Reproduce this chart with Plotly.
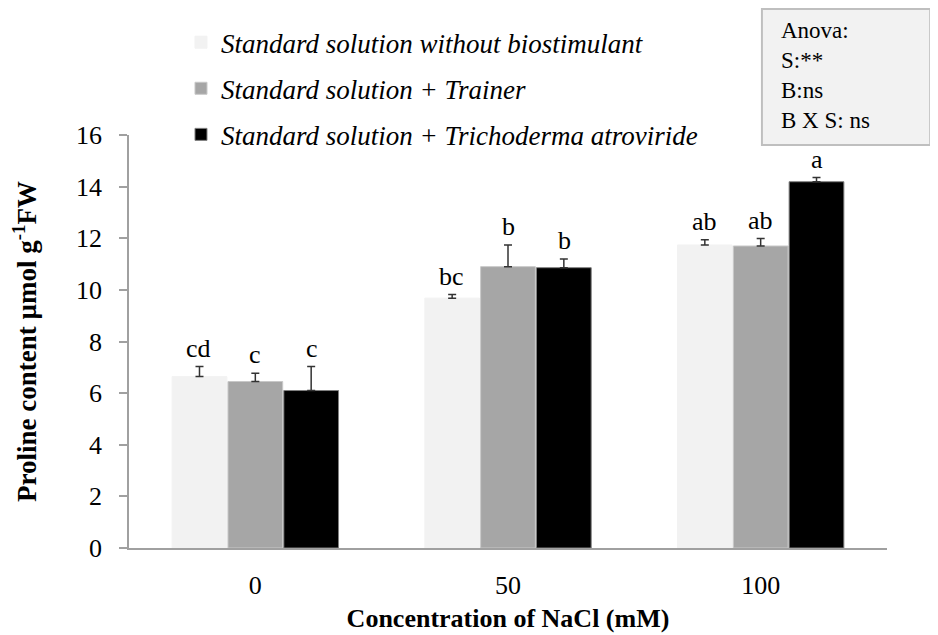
import plotly.graph_objects as go

categories = ["0", "50", "100"]
series_names = [
    "Standard solution without biostimulant",
    "Standard solution + Trainer",
    "Standard solution + Trichoderma atroviride",
]
values_control = [6.64, 9.68, 11.74]
values_trainer = [6.45, 10.90, 11.70]
values_tricho = [6.10, 10.86, 14.19]
err_control = [0.39, 0.14, 0.20]
err_trainer = [0.32, 0.84, 0.29]
err_tricho = [0.93, 0.34, 0.16]
letters_control = ["cd", "bc", "ab"]
letters_trainer = ["c", "b", "ab"]
letters_tricho = ["c", "b", "a"]
anova_lines = ["Anova:", "S:**", "B:ns", "B X S: ns"]

FONT = "Liberation Serif"
colors = ["#f2f2f2", "#a6a6a6", "#000000"]
line_colors = ["#f2f2f2", "#c8c8c8", "#7f7f7f"]

series = [
    (values_control, err_control, letters_control),
    (values_trainer, err_trainer, letters_trainer),
    (values_tricho, err_tricho, letters_tricho),
]

fig = go.Figure()
for i, (vals, errs, lets) in enumerate(series):
    fig.add_trace(go.Bar(
        x=categories, y=vals, name=series_names[i],
        legendgroup=f"g{i}",
        marker=dict(color=colors[i], line=dict(color=line_colors[i], width=1)),
        error_y=dict(type="data", array=errs, arrayminus=[0]*len(errs),
                     symmetric=False, color="#333333", thickness=1.5, width=4),
    ))

# significance letters
offsets = [-1, 0, 1]
for i, (vals, errs, lets) in enumerate(series):
    for j, c in enumerate(categories):
        fig.add_annotation(
            x=j + offsets[i] * 0.223, y=vals[j] + errs[j], xref="x", yref="y",
            text=lets[j], showarrow=False, yanchor="bottom", yshift=2,
            font=dict(family=FONT, size=26, color="#000"),
        )

# ANOVA box
fig.add_shape(type="rect", xref="paper", yref="paper",
              x0=0.835, x1=1.057, y0=0.976, y1=1.305,
              fillcolor="#f2f2f2", line=dict(color="#bfbfbf", width=2))
fig.add_annotation(xref="paper", yref="paper", x=0.8575, y=1.287,
                   xanchor="left", yanchor="top", align="left", showarrow=False,
                   text="<br>".join(anova_lines),
                   font=dict(family=FONT, size=23, color="#000"))

fig.update_layout(
    template="none",
    width=930, height=627,
    margin=dict(l=121, r=51, t=127, b=87, autoexpand=False),
    paper_bgcolor="white", plot_bgcolor="white",
    barmode="group", bargap=0.337, bargroupgap=0.02,
    font=dict(family=FONT, color="#000"),
    legend=dict(x=0.0686, y=1.283, xanchor="left", yanchor="top",
                font=dict(family=FONT, size=27, style="italic"),
                tracegroupgap=8, itemwidth=30, bgcolor="rgba(0,0,0,0)"),
    xaxis=dict(type="category", automargin=False, showline=True,
               linecolor="#a0a0a0", linewidth=1.5,
               showgrid=False, ticks="", ticklabelstandoff=13,
               tickfont=dict(family=FONT, size=26),
               title=dict(text="<b>Concentration of NaCl (mM)</b>",
                          font=dict(family=FONT, size=26), standoff=10)),
    yaxis=dict(automargin=False, range=[0, 16], dtick=2, showgrid=False, zeroline=False,
               showline=True, linecolor="#a0a0a0", linewidth=1.5,
               ticks="outside", ticklen=8, tickcolor="#a0a0a0", tickwidth=1.5,
               ticklabelstandoff=12,
               tickfont=dict(family=FONT, size=26),
               title=dict(text="<b>Proline content µmol g<sup>-1</sup>FW</b>",
                          font=dict(family=FONT, size=27), standoff=35)),
)

fig.write_html("out.html")
